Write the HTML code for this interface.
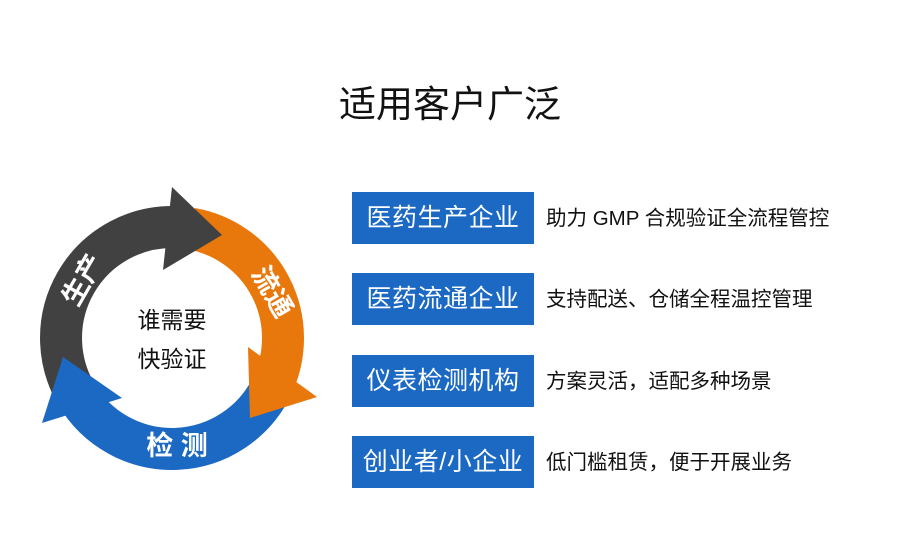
<!DOCTYPE html>
<html><head><meta charset="utf-8"><style>
body{margin:0;width:900px;height:557px;background:#fff;overflow:hidden;position:relative;font-family:"Liberation Sans","Noto Sans CJK SC",sans-serif}
.t{position:absolute;left:0;width:900px;top:74px;text-align:center;font-size:37px;color:#111}
.b{position:absolute;left:352px;width:182px;height:52px;background:#1c69c4;color:#fff;font-size:25px;line-height:52px;text-align:center;letter-spacing:0.5px}
.d{position:absolute;left:546px;font-size:20.5px;color:#111;line-height:24px}
</style></head><body>
<div class="t">适用客户广泛</div>
<div class="b" style="top:192px">医药生产企业</div>
<div class="b" style="top:273px">医药流通企业</div>
<div class="b" style="top:355px">仪表检测机构</div>
<div class="b" style="top:436px">创业者/小企业</div>
<div class="d" style="top:207px">助力 GMP 合规验证全流程管控</div>
<div class="d" style="top:288px">支持配送、仓储全程温控管理</div>
<div class="d" style="top:370px">方案灵活，适配多种场景</div>
<div class="d" style="top:451px">低门槛租赁，便于开展业务</div>
<svg width="900" height="557" style="position:absolute;left:0;top:0">
<g fill="none" stroke-width="42">
<path d="M 191.3 228.7 A 111 111 0 0 1 272.6 384.9" stroke="#e8780c"/>
<path d="M 272.6 384.9 A 111 111 0 0 1 75.9 393.5" stroke="#1c69c4"/>
<path d="M 75.9 393.5 A 111 111 0 0 1 172 227" stroke="#414141"/>
</g>
<polygon points="163,270 172,187 222,235" fill="#414141"/>
<polygon points="248,347 250,418 317,397" fill="#e8780c"/>
<polygon points="63,357 122,398 42,423" fill="#1c69c4"/>
<g fill="#fff" font-size="27" font-weight="bold" font-family="Liberation Sans,Noto Sans CJK SC,sans-serif" text-anchor="middle">
<text transform="translate(83,280) rotate(-60)" dy="9">生产</text>
<text transform="translate(272,292) rotate(60)" dy="9">流通</text>
<text x="177" y="455">检 测</text>
</g>
<g fill="#111" font-size="23" font-family="Liberation Sans,Noto Sans CJK SC,sans-serif" text-anchor="middle">
<text x="172" y="328">谁需要</text>
<text x="172" y="367">快验证</text>
</g>
</svg>
</body></html>
